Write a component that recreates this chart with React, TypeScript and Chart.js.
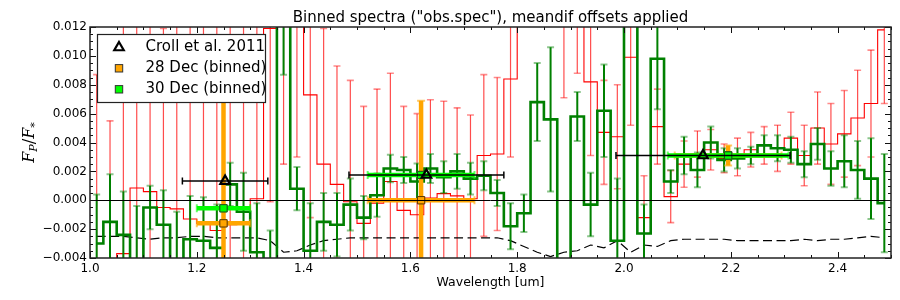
import React, { useEffect, useRef } from 'react';
import { Chart, registerables } from 'chart.js';

Chart.register(...registerables);

// ---------------- data ----------------
const wavelengths = [
  1.0125, 1.0375, 1.0625, 1.0875, 1.1125, 1.1375, 1.1625, 1.1875, 1.2125, 1.2375,
  1.2625, 1.2875, 1.3125, 1.3375, 1.3625, 1.3875, 1.4125, 1.4375, 1.4625, 1.4875,
  1.5125, 1.5375, 1.5625, 1.5875, 1.6125, 1.6375, 1.6625, 1.6875, 1.7125, 1.7375,
  1.7625, 1.7875, 1.8125, 1.8375, 1.8625, 1.8875, 1.9125, 1.9375, 1.9625, 1.9875,
  2.0125, 2.0375, 2.0625, 2.0875, 2.1125, 2.1375, 2.1625, 2.1875, 2.2125, 2.2375,
  2.2625, 2.2875, 2.3125, 2.3375, 2.3625, 2.3875, 2.4125, 2.4375, 2.4625, 2.4875,
];

// 28 Dec spectrum (red)
const dec28Flux = [
  -0.0050, -0.0045, -0.0037, 0.00085, 0.0006, -0.0005, -0.0006, -0.0013, -0.0016, -0.0021,
  -0.0017, -0.0016, 0.0001, 0.0119, 0.0145, 0.0135, 0.0073, 0.0025, 0.0011, -0.0001,
  -0.0016, -0.0002, 0.0013, -0.0007, -0.0010, 0.00016, 0.00046, 0.0003, 0.0001, 0.0031,
  0.0032, 0.0084, 0.0170, 0.0180, 0.0170, 0.0130, 0.0135, 0.0082, 0.0047, 0.0044,
  0.0099, -0.0012, 0.0051, 0.00025, 0.0025, 0.0032, 0.0035, 0.0029, 0.0030, 0.0035,
  0.0038, 0.0036, 0.0043, 0.0031, 0.0050, 0.0039, 0.0046, 0.0057, 0.0067, 0.0118,
];
const dec28Err = [
  0.0137, 0.0100, 0.0165, 0.0130, 0.0135, 0.0124, 0.0140, 0.0145, 0.0150, 0.0150,
  0.0150, 0.0150, 0.0135, 0.0120, 0.0120, 0.0105, 0.0085, 0.0094, 0.0082, 0.0084,
  0.0081, 0.0079, 0.0075, 0.0072, 0.0070, 0.0068, 0.0064, 0.0061, 0.0058, 0.0056,
  0.0053, 0.0054, 0.0045, 0.0050, 0.0045, 0.0059, 0.0047, 0.0051, 0.0036, 0.0036,
  0.0047, 0.0029, 0.0026, 0.0018, 0.0016, 0.0016, 0.0014, 0.0010, 0.0013, 0.0012,
  0.0013, 0.0016, 0.0018, 0.0021, 0.0025, 0.0028, 0.0030, 0.0033, 0.0037, 0.0051,
];

// 30 Dec spectrum (green)
const dec30Flux = [
  -0.0030, -0.0015, -0.0024, -0.0041, -0.0005, -0.0017, -0.0042, -0.0027, -0.0028, -0.0033,
  0.0011, -0.0008, -0.0036, -0.0055, 0.0125, 0.0008, -0.0035, -0.0015, -0.0017, -0.0003,
  -0.0012, 0.00035, 0.0022, 0.0021, 0.0013, 0.0022, 0.0016, 0.0020, 0.0015, 0.0017,
  0.0005, -0.0018, -0.0009, 0.0068, 0.0056, -0.0065, 0.0058, -0.0003, 0.0062, -0.0028,
  0.0140, -0.0023, 0.0098, 0.0013, 0.0031, 0.0021, 0.0040, 0.0028, 0.0029, 0.0031,
  0.0038, 0.0036, 0.0035, 0.0025, 0.0039, 0.0022, 0.0027, 0.0021, 0.0015, -0.0002,
];
const dec30Err = [
  0.0034, 0.0033, 0.0030, 0.0037, 0.0015, 0.0024, 0.0034, 0.0030, 0.0030, 0.0030,
  0.0015, 0.0027, 0.0034, 0.0034, 0.0038, 0.0015, 0.0033, 0.0020, 0.0022, 0.0018,
  0.0015, 0.0015, 0.00095, 0.0009, 0.00125, 0.0010, 0.0011, 0.0012, 0.0011, 0.0010,
  0.0009, 0.0016, 0.0013, 0.0027, 0.0050, 0.0022, 0.0017, 0.0022, 0.0032, 0.0043,
  0.0015, 0.0020, 0.0035, 0.0008, 0.0013, 0.0012, 0.0011, 0.0008, 0.0007, 0.0006,
  0.0007, 0.0009, 0.0009, 0.0009, 0.0011, 0.0012, 0.0018, 0.0020, 0.0028, 0.0034,
];

// dashed black curve
const noiseLevel = [
  -0.0025, -0.0025, -0.0025, -0.0026, -0.0027, -0.0026, -0.0026, -0.0025, -0.0025, -0.0026,
  -0.0026, -0.0026, -0.0026, -0.0028, -0.0036, -0.0035, -0.0031, -0.0028, -0.0027, -0.0026,
  -0.0026, -0.0026, -0.0026, -0.0026, -0.0026, -0.0026, -0.0026, -0.0026, -0.0026, -0.0026,
  -0.0026, -0.0028, -0.0032, -0.0036, -0.0039, -0.0036, -0.0035, -0.0031, -0.0033, -0.0028,
  -0.0036, -0.0031, -0.0032, -0.0028, -0.0027, -0.0027, -0.0027, -0.0027, -0.0028, -0.0028,
  -0.0028, -0.0028, -0.0028, -0.0027, -0.0028, -0.0027, -0.0027, -0.0026, -0.0025, -0.0026,
];

// Croll et al. 2011
const crollWl = [1.253, 1.630, 2.148];
const crollFlux = [0.00133, 0.00175, 0.0031];
const crollWlErr = [0.080, 0.145, 0.163];

// 28 Dec binned
const bin28Wl = [1.25, 1.62, 2.195];
const bin28Flux = [-0.0016, 0.0, 0.0031];
const bin28WlErr = [0.05, 0.10, 0.10];
const bin28FluxErr = [0.011, 0.0069, 0.0007];

// 30 Dec binned
const bin30Wl = [1.25, 1.62, 2.195];
const bin30Flux = [-0.00056, 0.00175, 0.0031];
const bin30WlErr = [0.05, 0.10, 0.113];
const bin30FluxErr = [0.0002, 0.0002, 0.0002];

const xMajorTicks = [1.0, 1.2, 1.4, 1.6, 1.8, 2.0, 2.2, 2.4];
const yMajorTicks = [-0.004, -0.002, 0.0, 0.002, 0.004, 0.006, 0.008, 0.010, 0.012];
const titleText = 'Binned spectra ("obs.spec"), meandif offsets applied';
const xTitleText = 'Wavelength [um]';
const legendLabels = ['Croll et al. 2011', '28 Dec (binned)', '30 Dec (binned)'];

// ---------------- drawing helpers ----------------
const FONT = "'DejaVu Sans', 'Bitstream Vera Sans', sans-serif";
const SERIF = "'DejaVu Serif', serif";
Chart.defaults.font.family = FONT;

const pts = (xs: number[], ys: number[]) => xs.map((x, i) => ({ x, y: ys[i] }));

function clipArea(chart: any) {
  const a = chart.chartArea;
  chart.ctx.beginPath();
  chart.ctx.rect(a.left, a.top, a.right - a.left, a.bottom - a.top);
  chart.ctx.clip();
}

function drawErrorBars(chart: any, ds: any) {
  const st = ds.errStyle;
  if (!st) return;
  const ctx = chart.ctx;
  const xs = chart.scales.x;
  const ys = chart.scales.y;
  ctx.save();
  clipArea(chart);
  ctx.lineCap = 'butt';
  ds.data.forEach((p: any, i: number) => {
    const px = xs.getPixelForValue(p.x);
    const py = ys.getPixelForValue(p.y);
    if (ds.yErr) {
      const e = ds.yErr[i];
      const t = ys.getPixelForValue(p.y + e);
      const b = ys.getPixelForValue(p.y - e);
      ctx.strokeStyle = st.bar;
      ctx.lineWidth = st.barWidth;
      ctx.beginPath();
      ctx.moveTo(px, t);
      ctx.lineTo(px, b);
      ctx.stroke();
      if (st.cap) {
        ctx.strokeStyle = st.cap;
        ctx.lineWidth = st.capWidth;
        ctx.beginPath();
        ctx.moveTo(px - st.capHalf, t);
        ctx.lineTo(px + st.capHalf, t);
        ctx.moveTo(px - st.capHalf, b);
        ctx.lineTo(px + st.capHalf, b);
        ctx.stroke();
      }
    }
    if (ds.xErr) {
      const e = ds.xErr[i];
      const l = xs.getPixelForValue(p.x - e);
      const r = xs.getPixelForValue(p.x + e);
      ctx.strokeStyle = st.bar;
      ctx.lineWidth = st.xBarWidth || st.barWidth;
      ctx.beginPath();
      ctx.moveTo(l, py);
      ctx.lineTo(r, py);
      ctx.stroke();
      if (st.cap) {
        ctx.strokeStyle = st.cap;
        ctx.lineWidth = st.capWidth;
        ctx.beginPath();
        ctx.moveTo(l, py - st.capHalf);
        ctx.lineTo(l, py + st.capHalf);
        ctx.moveTo(r, py - st.capHalf);
        ctx.lineTo(r, py + st.capHalf);
        ctx.stroke();
      }
    }
  });
  ctx.restore();
}

function drawZeroLine(chart: any) {
  const ctx = chart.ctx;
  const a = chart.chartArea;
  const y = Math.round(chart.scales.y.getPixelForValue(0)) + 0.5;
  ctx.save();
  ctx.strokeStyle = '#000';
  ctx.lineWidth = 1;
  ctx.beginPath();
  ctx.moveTo(a.left, y);
  ctx.lineTo(a.right, y);
  ctx.stroke();
  ctx.restore();
}

function triangle(ctx: any, x: number, y: number, r: number) {
  ctx.beginPath();
  ctx.moveTo(x, y - r);
  ctx.lineTo(x + r * 0.866, y + r * 0.5);
  ctx.lineTo(x - r * 0.866, y + r * 0.5);
  ctx.closePath();
}

const decorPlugin = {
  id: 'decor',
  beforeDatasetDraw(chart: any, args: any) {
    drawErrorBars(chart, chart.data.datasets[args.index]);
  },
  afterDatasetDraw(chart: any, args: any) {
    if (chart.data.datasets[args.index].zeroAfter) drawZeroLine(chart);
  },
  afterDraw(chart: any) {
    const ctx = chart.ctx;
    const a = chart.chartArea;
    const xs = chart.scales.x;
    const ys = chart.scales.y;
    ctx.save();

    // inward ticks on all four sides
    ctx.strokeStyle = '#111';
    ctx.lineWidth = 1;
    ctx.beginPath();
    for (let i = 0; i <= 30; i++) {
      const v = 1.0 + i * 0.05;
      const major = xMajorTicks.some((t) => Math.abs(t - v) < 1e-9);
      const len = major ? 6 : 3;
      const px = Math.round(xs.getPixelForValue(v)) + 0.5;
      ctx.moveTo(px, a.bottom);
      ctx.lineTo(px, a.bottom - len);
      ctx.moveTo(px, a.top);
      ctx.lineTo(px, a.top + len);
    }
    for (let i = 0; i <= 32; i++) {
      const v = -0.004 + i * 0.0005;
      const major = yMajorTicks.some((t) => Math.abs(t - v) < 1e-9);
      const len = major ? 6 : 3;
      const py = Math.round(ys.getPixelForValue(v)) + 0.5;
      ctx.moveTo(a.left, py);
      ctx.lineTo(a.left + len, py);
      ctx.moveTo(a.right, py);
      ctx.lineTo(a.right - len, py);
    }
    ctx.stroke();

    // frame
    ctx.strokeStyle = '#222';
    ctx.lineWidth = 1.5;
    ctx.strokeRect(a.left, a.top, a.right - a.left, a.bottom - a.top);

    // legend
    const lx = 97.5, ly = 34.5, lw = 168, lh = 68;
    ctx.fillStyle = '#fff';
    ctx.fillRect(lx, ly, lw, lh);
    ctx.strokeStyle = '#222';
    ctx.lineWidth = 1.2;
    ctx.strokeRect(lx, ly, lw, lh);
    const rows = [47, 68.3, 89.3];
    const mx = 119;
    ctx.strokeStyle = '#000';
    ctx.lineWidth = 2.2;
    triangle(ctx, mx, rows[0] + 0.5, 5.5);
    ctx.stroke();
    const sq = 7.4;
    ctx.lineWidth = 1;
    ctx.strokeStyle = '#333';
    ctx.fillStyle = '#ffa500';
    ctx.fillRect(mx - sq / 2, rows[1] - sq / 2, sq, sq);
    ctx.strokeRect(mx - sq / 2, rows[1] - sq / 2, sq, sq);
    ctx.fillStyle = '#00ff00';
    ctx.fillRect(mx - sq / 2, rows[2] - sq / 2, sq, sq);
    ctx.strokeRect(mx - sq / 2, rows[2] - sq / 2, sq, sq);
    ctx.fillStyle = '#000';
    ctx.font = `15px ${FONT}`;
    ctx.textAlign = 'left';
    ctx.textBaseline = 'middle';
    legendLabels.forEach((t, i) => ctx.fillText(t, 145.5, rows[i]));

    // title
    ctx.textAlign = 'center';
    ctx.textBaseline = 'alphabetic';
    ctx.font = `15px ${FONT}`;
    ctx.fillText(titleText, (a.left + a.right) / 2, 21.5);

    // x axis title
    ctx.font = `12.5px ${FONT}`;
    ctx.fillText(xTitleText, (a.left + a.right) / 2, 286);

    // y axis title  F_P / F_*
    ctx.translate(33.5, (a.top + a.bottom) / 2);
    ctx.rotate(-Math.PI / 2);
    const big = `italic 16px ${SERIF}`;
    const small = `italic 11px ${SERIF}`;
    const parts = [
      { t: 'F', f: big, dy: 0 },
      { t: 'P', f: small, dy: 3.5 },
      { t: '/', f: `16px ${SERIF}`, dy: 0 },
      { t: 'F', f: big, dy: 0 },
      { t: '*', f: small, dy: 4 },
    ];
    let total = 0;
    parts.forEach((p) => {
      ctx.font = p.f;
      total += ctx.measureText(p.t).width;
    });
    let cx = -total / 2;
    ctx.textAlign = 'left';
    parts.forEach((p) => {
      ctx.font = p.f;
      ctx.fillText(p.t, cx, p.dy);
      cx += ctx.measureText(p.t).width;
    });

    ctx.restore();
  },
};

function fmtY(v: number) {
  const s = Number(v).toFixed(3);
  return s.startsWith('-') ? '\u2212' + s.slice(1) : s;
}

export default function App() {
  const ref = useRef<HTMLCanvasElement>(null);
  useEffect(() => {
    document.body.style.margin = '0';
    const canvas = ref.current;
    if (!canvas) return;
    const chart = new Chart(canvas, {
      type: 'line',
      data: {
        datasets: [
          {
            label: 'Croll et al. 2011',
            data: pts(crollWl, crollFlux),
            xErr: crollWlErr,
            errStyle: { bar: '#000', barWidth: 1.5, cap: '#000', capWidth: 1.5, capHalf: 3.5 },
            showLine: false,
            pointStyle: 'triangle',
            pointRadius: 5.5,
            pointBackgroundColor: 'rgba(0,0,0,0)',
            pointBorderColor: '#000',
            pointBorderWidth: 2.2,
            order: 0,
          } as any,
          {
            label: '30 Dec (binned)',
            data: pts(bin30Wl, bin30Flux),
            xErr: bin30WlErr,
            yErr: bin30FluxErr,
            errStyle: { bar: '#00ff00', barWidth: 4.5, cap: 'rgba(0,255,0,0.6)', capWidth: 2, capHalf: 4 },
            showLine: false,
            pointStyle: 'rect',
            pointRadius: 5.2,
            pointBackgroundColor: '#00ff00',
            pointBorderColor: '#224422',
            pointBorderWidth: 1,
            order: 1,
          } as any,
          {
            label: '28 Dec (binned)',
            data: pts(bin28Wl, bin28Flux),
            xErr: bin28WlErr,
            yErr: bin28FluxErr,
            zeroAfter: true,
            errStyle: { bar: '#ffa500', barWidth: 4.5, cap: 'rgba(255,165,0,0.6)', capWidth: 2, capHalf: 4 },
            showLine: false,
            pointStyle: 'rect',
            pointRadius: 5.2,
            pointBackgroundColor: '#ffa500',
            pointBorderColor: '#553300',
            pointBorderWidth: 1,
            order: 2,
          } as any,
          {
            label: '30 Dec',
            data: pts(wavelengths, dec30Flux),
            yErr: dec30Err,
            errStyle: { bar: '#008000', barWidth: 2, cap: 'rgba(0,128,0,0.45)', capWidth: 2, capHalf: 3.5 },
            borderColor: '#008000',
            borderWidth: 2.6,
            stepped: 'middle',
            pointRadius: 0,
            fill: false,
            clip: 0,
            order: 3,
          } as any,
          {
            label: 'noise',
            data: pts(wavelengths, noiseLevel),
            borderColor: '#000',
            borderWidth: 1.2,
            borderDash: [9, 4.5],
            pointRadius: 0,
            fill: false,
            clip: 0,
            order: 4,
          } as any,
          {
            label: '28 Dec',
            data: pts(wavelengths, dec28Flux),
            yErr: dec28Err,
            errStyle: { bar: 'rgba(255,0,0,0.7)', barWidth: 1.2, cap: 'rgba(255,0,0,0.45)', capWidth: 1.6, capHalf: 3.5 },
            borderColor: '#ff0000',
            borderWidth: 1.1,
            stepped: 'middle',
            pointRadius: 0,
            fill: false,
            clip: 0,
            order: 5,
          } as any,
        ],
      },
      options: {
        responsive: false,
        animation: false,
        devicePixelRatio: 1,
        events: [],
        layout: { padding: { left: 0, right: 9, top: 27, bottom: 0 } },
        elements: { line: { tension: 0 } },
        plugins: {
          legend: { display: false },
          tooltip: { enabled: false },
          title: { display: false },
        },
        scales: {
          x: {
            type: 'linear',
            min: 1.0,
            max: 2.5,
            afterBuildTicks: (s: any) => {
              s.ticks = xMajorTicks.map((v) => ({ value: v }));
            },
            afterFit: (s: any) => {
              s.height = 42;
            },
            grid: { display: false, drawTicks: false },
            border: { display: false },
            ticks: {
              color: '#000',
              font: { size: 12, family: FONT },
              padding: 4,
              maxRotation: 0,
              autoSkip: false,
              callback: (v: any) => Number(v).toFixed(1),
            },
          },
          y: {
            type: 'linear',
            min: -0.004,
            max: 0.012,
            afterBuildTicks: (s: any) => {
              s.ticks = yMajorTicks.map((v) => ({ value: v }));
            },
            afterFit: (s: any) => {
              s.width = 90;
            },
            grid: { display: false, drawTicks: false },
            border: { display: false },
            ticks: {
              color: '#000',
              font: { size: 12, family: FONT },
              padding: 3,
              autoSkip: false,
              callback: (v: any) => fmtY(v),
            },
          },
        },
      } as any,
      plugins: [decorPlugin],
    });
    return () => chart.destroy();
  }, []);
  return (
    <div style={{ width: 900, height: 300 }}>
      <canvas ref={ref} width={900} height={300} style={{ display: 'block', width: 900, height: 300 }} />
    </div>
  );
}
